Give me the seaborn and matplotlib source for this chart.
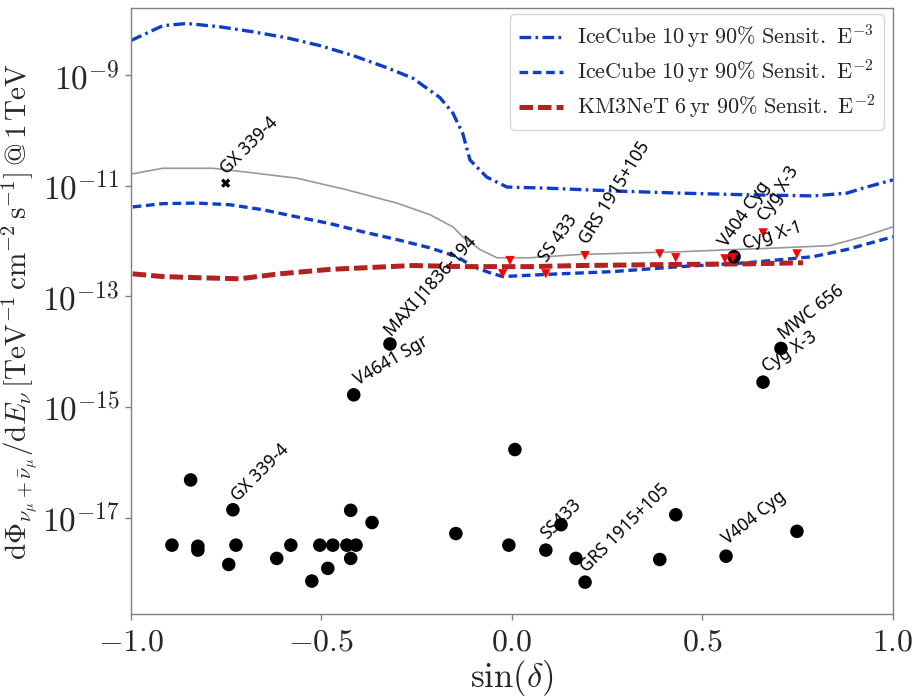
import numpy as np
import pandas as pd
import matplotlib
matplotlib.use("Agg")
import matplotlib.pyplot as plt
import seaborn as sns

# ---- sensitivity curves: sin(declination) and log10 of the flux normalisation at 1 TeV ----
ic3_sindec = [-1.0, -0.916, -0.853, -0.766, -0.68, -0.59, -0.504, -0.417, -0.328, -0.26,
              -0.189, -0.155, -0.129, -0.11, -0.066, -0.013, 0.092, 0.265, 0.441, 0.617,
              0.79, 0.879, 0.921, 1.0]
ic3_log10 = [-8.37, -8.10, -8.06, -8.12, -8.21, -8.32, -8.46, -8.64, -8.86, -9.05,
             -9.40, -9.68, -10.05, -10.53, -10.84, -11.02, -11.04, -11.09, -11.13, -11.16,
             -11.18, -11.13, -11.04, -10.89]

ic2_sindec = [-0.995, -0.916, -0.827, -0.74, -0.654, -0.564, -0.478, -0.391, -0.302, -0.215,
              -0.144, -0.102, -0.058, -0.024, 0.092, 0.265, 0.441, 0.617, 0.79, 0.879, 1.0]
ic2_log10 = [-11.38, -11.32, -11.31, -11.34, -11.43, -11.56, -11.68, -11.83, -11.97, -12.12,
             -12.28, -12.46, -12.57, -12.64, -12.60, -12.55, -12.46, -12.39, -12.28, -12.15, -11.92]

ref_sindec = [-0.995, -0.916, -0.785, -0.696, -0.564, -0.433, -0.302, -0.215, -0.155, -0.129,
              -0.084, -0.039, 0.047, 0.178, 0.441, 0.703, 0.835, 0.921, 1.0]
ref_log10 = [-10.78, -10.68, -10.68, -10.75, -10.86, -11.07, -11.31, -11.52, -11.74, -11.92,
             -12.15, -12.30, -12.30, -12.24, -12.19, -12.12, -12.08, -11.92, -11.74]

km3_sindec = [-0.995, -0.916, -0.827, -0.714, -0.609, -0.478, -0.26, -0.129, 0.047, 0.178,
              0.441, 0.617, 0.764]
km3_log10 = [-12.59, -12.64, -12.66, -12.68, -12.59, -12.51, -12.44, -12.46, -12.46, -12.44,
             -12.42, -12.41, -12.39]

# ---- upper limits (red triangles) ----
ul_sindec = [-0.005, -0.024, 0.089, 0.192, 0.388, 0.43, 0.559, 0.58, 0.659, 0.748]
ul_log10 = [-12.35, -12.59, -12.59, -12.26, -12.23, -12.30, -12.32, -12.30, -11.85, -12.23]

# ---- predicted source fluxes (black dots) ----
src_sindec = [-0.320, -0.415, 0.659, 0.706, 0.583,
              -0.892, -0.843, -0.824, -0.824, -0.743, -0.732, -0.724, -0.617, -0.580, -0.525,
              -0.504, -0.483, -0.470, -0.433, -0.423, -0.423, -0.409, -0.367, -0.147, -0.008,
              0.008, 0.089, 0.129, 0.168, 0.192, 0.388, 0.430, 0.562, 0.748]
src_log10 = [-13.86, -14.78, -14.55, -13.94, -12.28,
             -17.50, -16.32, -17.52, -17.59, -17.85, -16.86, -17.50, -17.74, -17.50, -18.15,
             -17.50, -17.92, -17.50, -17.50, -16.87, -17.74, -17.50, -17.09, -17.29, -17.50,
             -15.77, -17.59, -17.13, -17.74, -18.17, -17.76, -16.95, -17.70, -17.25]

# ---- GX 339-4 measured point (cross) ----
gx_sindec = [-0.751]
gx_log10 = [-10.95]

# ---- text labels: (name, which marks, index, rotation, offset in pixels) ----
labels = [
    ("GX 339-4", "gx", 0, 45, (4, 5)),
    ("MAXI J1836-194", "src", 0, 48, (5, 5)),
    ("V4641 Sgr", "src", 1, 30, (6, 6)),
    ("Cyg X-3", "src", 2, 33, (6, 6)),
    ("MWC 656", "src", 3, 38, (6, 5)),
    ("Cyg X-1", "src", 4, 17, (12, 4)),
    ("SS 433", "ul", 2, 55, (4, 9)),
    ("GRS 1915+105", "ul", 3, 58, (6, 8)),
    ("V404 Cyg", "ul", 6, 55, (5, 9)),
    ("Cyg X-3", "ul", 8, 58, (7, 9)),
    ("GX 339-4", "src", 10, 45, (8, 5)),
    ("SS433", "src", 26, 45, (4, 7)),
    ("GRS 1915+105", "src", 29, 45, (5, 6)),
    ("V404 Cyg", "src", 32, 38, (4, 8)),
]

y_ticks = [1e-17, 1e-15, 1e-13, 1e-11, 1e-9]
y_ticklabels = [r"$10^{-17}$", r"$10^{-15}$", r"$10^{-13}$", r"$10^{-11}$", r"$10^{-9}$"]
x_ticks = [-1.0, -0.5, 0.0, 0.5, 1.0]
x_ticklabels = [r"$-1.0$", r"$-0.5$", r"$0.0$", r"$0.5$", r"$1.0$"]

sns.set_theme(style="white")
plt.rcParams.update({
    "font.family": ["DejaVu Serif"],
    "mathtext.fontset": "cm",
    "axes.edgecolor": "0.5",
    "axes.linewidth": 1.0,
})

BLUE = "#0f3cc9"
RED = "#b22222"

fig, ax = plt.subplots(figsize=(9.21, 6.96), dpi=100)
fig.subplots_adjust(left=0.142, right=0.9696, top=0.9885, bottom=0.1175)


def frame(sindec, log10):
    return pd.DataFrame({"sindec": sindec, "flux": 10.0 ** np.asarray(log10)})


sns.lineplot(data=frame(ic3_sindec, ic3_log10), x="sindec", y="flux", ax=ax,
             color=BLUE, lw=2.4, linestyle=(0, (3.5, 1.3, 0.8, 1.3)), sort=False,
             estimator=None, label=r"$\mathrm{IceCube\ 10\,yr\ 90\%\ Sensit.\ E^{-3}}$")
sns.lineplot(data=frame(ic2_sindec, ic2_log10), x="sindec", y="flux", ax=ax,
             color=BLUE, lw=2.4, linestyle=(0, (2.6, 1.4)), sort=False,
             estimator=None, label=r"$\mathrm{IceCube\ 10\,yr\ 90\%\ Sensit.\ E^{-2}}$")
sns.lineplot(data=frame(km3_sindec, km3_log10), x="sindec", y="flux", ax=ax,
             color=RED, lw=3.6, linestyle=(0, (2.7, 1.0)), sort=False,
             estimator=None, label=r"$\mathrm{KM3NeT\ 6\,yr\ 90\%\ Sensit.\ E^{-2}}$")
sns.lineplot(data=frame(ref_sindec, ref_log10), x="sindec", y="flux", ax=ax,
             color="0.6", lw=1.2, sort=False, estimator=None, legend=False)

src = frame(src_sindec, src_log10)
ul = frame(ul_sindec, ul_log10)
gx = frame(gx_sindec, gx_log10)

sns.scatterplot(data=src, x="sindec", y="flux", ax=ax, color="black", s=95,
                edgecolor="none", legend=False, zorder=4)
sns.scatterplot(data=ul, x="sindec", y="flux", ax=ax, color="red", marker="v", s=45,
                edgecolor="none", legend=False, zorder=5)
sns.scatterplot(data=gx, x="sindec", y="flux", ax=ax, color="black", marker="X", s=45,
                edgecolor="none", legend=False, zorder=5)

tables = {"src": src, "ul": ul, "gx": gx}
for name, kind, idx, rot, (dx, dy) in labels:
    row = tables[kind].iloc[idx]
    ax.annotate(name, xy=(row["sindec"], row["flux"]), xytext=(dx, dy),
                textcoords="offset pixels", rotation=rot, rotation_mode="anchor",
                ha="left", va="bottom", fontsize=12.5, family="Noto Sans",
                color="black", zorder=6)

ax.set_yscale("log")
ax.set_xlim(-1.0, 1.0)
ax.set_ylim(10 ** -18.75, 10 ** -7.78)
ax.set_yticks(y_ticks)
ax.set_yticklabels(y_ticklabels)
ax.yaxis.set_minor_locator(matplotlib.ticker.NullLocator())
ax.set_xticks(x_ticks)
ax.set_xticklabels(x_ticklabels)
ax.tick_params(axis="both", which="major", bottom=True, left=True, length=4,
               width=1.0, color="0.5", pad=5)
ax.tick_params(axis="x", labelsize=23)
ax.tick_params(axis="y", labelsize=24, pad=4)

ax.set_xlabel(r"$\sin(\delta)$", fontsize=25, labelpad=0)
ax.set_ylabel(r"$\mathrm{d}\Phi_{\nu_\mu+\bar{\nu}_\mu}/\mathrm{d}E_\nu\,"
              r"[\mathrm{TeV}^{-1}\,\mathrm{cm}^{-2}\,\mathrm{s}^{-1}]\,@\,1\,\mathrm{TeV}$",
              fontsize=21, labelpad=1)

leg = ax.legend(loc="upper right", fontsize=16, handlelength=2.0, handletextpad=0.6,
                frameon=True, framealpha=0.8, edgecolor="0.8", borderpad=0.4,
                labelspacing=0.3, borderaxespad=0,
                bbox_to_anchor=(0.988, 0.990))
leg.get_frame().set_linewidth(1.0)

fig.savefig("out.png", dpi=100)
